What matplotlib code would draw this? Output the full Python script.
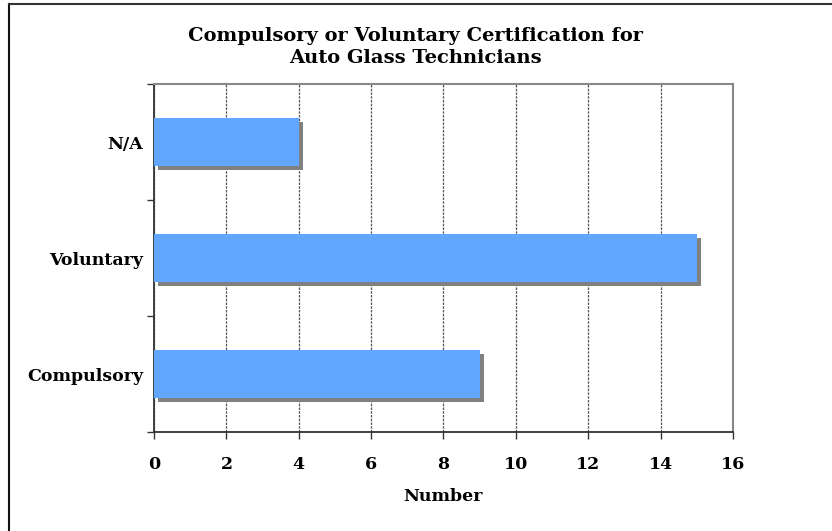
import matplotlib
matplotlib.use("Agg")
import matplotlib.pyplot as plt
import matplotlib.patheffects as pe
from matplotlib.lines import Line2D

categories = ["Compulsory", "Voluntary", "N/A"]
values = [9, 15, 4]
x_ticks = [0, 2, 4, 6, 8, 10, 12, 14, 16]

plt.rcParams['font.family'] = ['DejaVu Serif']
plt.rcParams['font.weight'] = 'bold'

fig = plt.figure(figsize=(8.32, 5.31), dpi=100)
ax = fig.add_axes([0.1851, 0.1864, 0.6959, 0.6554])

bars = ax.barh(range(len(categories)), values, height=0.41, color='#61a6ff',
               edgecolor='none', zorder=3)
for b in bars:
    b.set_path_effects([pe.SimplePatchShadow(offset=(2.8, -2.8), shadow_rgbFace='#808080', alpha=1.0),
                        pe.Normal()])

ax.set_xlim(0, 16)
ax.set_ylim(-0.5, 2.5)
ax.set_xticks(x_ticks)
ax.set_xticklabels([str(t) for t in x_ticks], fontsize=12.5, fontweight='bold')
ax.set_yticks([-0.5, 0.5, 1.5, 2.5])
ax.set_yticklabels([])
ax.set_yticks(range(len(categories)), minor=True)
ax.set_yticklabels(categories, minor=True, fontsize=12.5, fontweight='bold')
ax.tick_params(axis='y', which='minor', length=0, pad=8)
ax.tick_params(axis='y', which='major', length=5, width=1, color='#333333', direction='out')
ax.tick_params(axis='x', length=5, width=1, color='#333333', direction='out', pad=12)

ax.grid(axis='x', color='#555555', linewidth=0.9, linestyle=(0, (2, 1)), zorder=0)
ax.spines['left'].set_color('#333333')
ax.spines['bottom'].set_color('#333333')
ax.spines['left'].set_linewidth(1.3)
ax.spines['bottom'].set_linewidth(1.3)
ax.spines['top'].set_color('#888888')
ax.spines['right'].set_color('#888888')
ax.spines['top'].set_linewidth(1.5)
ax.spines['right'].set_linewidth(1.5)

ax.set_xlabel('Number', fontsize=12.5, fontweight='bold', labelpad=11)

fig.text(0.499, 0.911, 'Compulsory or Voluntary Certification for\nAuto Glass Technicians',
         ha='center', va='center', fontsize=14, fontweight='bold', linespacing=1.3)

# outer frame (only left and top edges are inside the image)
fig.add_artist(Line2D([0.0108, 0.0108], [0, 0.992], transform=fig.transFigure,
                      color='#111111', linewidth=1.5))
fig.add_artist(Line2D([0.0108, 1.0], [0.992, 0.992], transform=fig.transFigure,
                      color='#333333', linewidth=1.5))

fig.savefig('out.png', dpi=100)
